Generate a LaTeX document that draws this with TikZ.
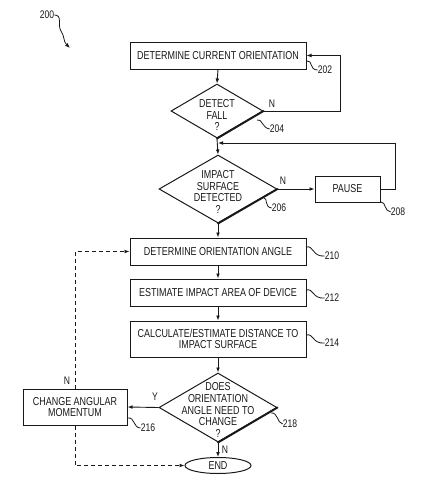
\documentclass[tikz,border=0pt]{standalone}
\usepackage{fontspec}
\setmainfont{Liberation Sans}[FakeStretch=0.78]
\usetikzlibrary{shapes.geometric,arrows.meta}
\begin{document}
\begin{tikzpicture}[x=1pt,y=-1pt,
  every node/.style={font=\fontsize{11.5}{11.7}\selectfont, text=black!90},
  line/.style={draw=black!90, line width=0.9pt},
  arr/.style={line, -{Latex[length=5pt,width=3.8pt]}},
  dsh/.style={dash pattern=on 4pt off 3pt},
  box/.style={draw=black!90, line width=1pt, rectangle, align=center, inner sep=0pt},
  dia/.style={draw=black!90, line width=1pt, diamond, inner sep=0pt},
  heavy/.style={draw=black!90, line width=1.9pt, line cap=round},
  dtext/.style={align=center, inner sep=0pt},
  sq/.style={line, line width=0.8pt},
  lbl/.style={inner sep=0pt, font=\fontsize{11}{11}\selectfont},
]
\useasboundingbox (0,0) rectangle (438,483);

% nodes
\node[box, minimum width=176pt, minimum height=27pt] (b202) at (218,55.5) {DETERMINE CURRENT ORIENTATION};
\node[dia, minimum width=92pt, minimum height=54pt] (d204) at (217,111) {};
\node[dtext] (t204) at (217,115) {DETECT\\FALL\\?};
\node[dia, minimum width=118pt, minimum height=68pt] (d206) at (218,189) {};
\node[dtext] (t206) at (218,192) {IMPACT\\SURFACE\\DETECTED\\?};
\node[box, minimum width=65pt, minimum height=26pt] (b208) at (347.5,189) {PAUSE};
\node[box, minimum width=176pt, minimum height=27pt] (b210) at (218,251.5) {DETERMINE ORIENTATION ANGLE};
\node[box, minimum width=176pt, minimum height=27pt] (b212) at (218,292.5) {ESTIMATE IMPACT AREA OF DEVICE};
\node[box, minimum width=176pt, minimum height=36pt] (b214) at (218,339) {CALCULATE/ESTIMATE DISTANCE TO\\IMPACT SURFACE};
\node[dia, minimum width=118pt, minimum height=69pt] (d218) at (218,407.5) {};
\node[dtext] (t218) at (218,410) {DOES\\ORIENTATION\\ANGLE NEED TO\\CHANGE\\?};
\node[box, minimum width=104pt, minimum height=36pt] (b216) at (75,407) {CHANGE ANGULAR\\MOMENTUM};
\node[draw=black!90, line width=1pt, ellipse, minimum width=66pt, minimum height=16pt, inner sep=0pt] (e) at (218,465.5) {END};

% heavy lower-right edges of diamonds
\draw[heavy] (d204.east) -- (d204.south);
\draw[heavy] (d206.east) -- (d206.south);
\draw[heavy] (d218.east) -- (d218.south);

% connectors
\coordinate (c204) at (340,111);
\draw[arr] (b202.south) -- (d204.north);
\draw[arr] (d204.east) -- (c204) |- (b202.east);
\node[lbl] (n204) at (272,104) {N};
\draw[arr] (d204.south) -- (d206.north);
\draw[arr] (d206.east) -- (b208.west);
\node[lbl] (n206) at (283,181) {N};
\coordinate (j) at (218,143);
\coordinate (c208) at (395,189);
\draw[arr] (b208.east) -- (c208) |- (j);
\draw[arr] (d206.south) -- (b210.north);
\draw[arr] (b210.south) -- (b212.north);
\draw[arr] (b212.south) -- (b214.north);
\draw[arr] (b214.south) -- (d218.north);
\draw[arr] (d218.west) -- (b216.east);
\node[lbl] (ny) at (155,397) {Y};
\draw[arr] (d218.south) -- (e.north);
\node[lbl] (nn) at (225,450) {N};
\draw[arr, dsh] (b216.north) |- (b210.west);
\draw[arr, dsh] (b216.south) |- (e.west);
\node[lbl] (nd) at (67,381) {N};

% reference labels
\node[lbl] (l200) at (47,15) {200};
\draw[sq, -{Latex[length=5pt,width=3.8pt]}] (l200.east) .. controls (63,15) and (57,25) .. (61,31) .. controls (65,37) and (63,41) .. (70,48);
\node[lbl] (l202) at (325,70) {202};
\draw[sq] (307,61) .. controls (313,60) and (309,70) .. (l202.west);
\node[lbl] (l204) at (277,129) {204};
\draw[sq] (257,120) .. controls (262,118) and (262,128) .. (l204.west);
\node[lbl] (l206) at (279,208) {206};
\draw[sq] (264,198) .. controls (268,198) and (264,207) .. (l206.west);
\node[lbl] (l208) at (398,212) {208};
\draw[sq] (381,202) .. controls (386,202) and (384,211) .. (l208.west);
\node[lbl] (l210) at (332,256) {210};
\draw[sq] (306,247) .. controls (314,245) and (312,257) .. (l210.west);
\node[lbl] (l212) at (332,298) {212};
\draw[sq] (306,290) .. controls (314,288) and (312,299) .. (l212.west);
\node[lbl] (l214) at (332,343) {214};
\draw[sq] (306,335) .. controls (314,333) and (312,344) .. (l214.west);
\node[lbl] (l216) at (148,428) {216};
\draw[sq] (128,418) .. controls (135,417) and (133,428) .. (l216.west);
\node[lbl] (l218) at (290,424) {218};
\draw[sq] (271,413) .. controls (278,412) and (277,423) .. (l218.west);
\end{tikzpicture}
\end{document}
